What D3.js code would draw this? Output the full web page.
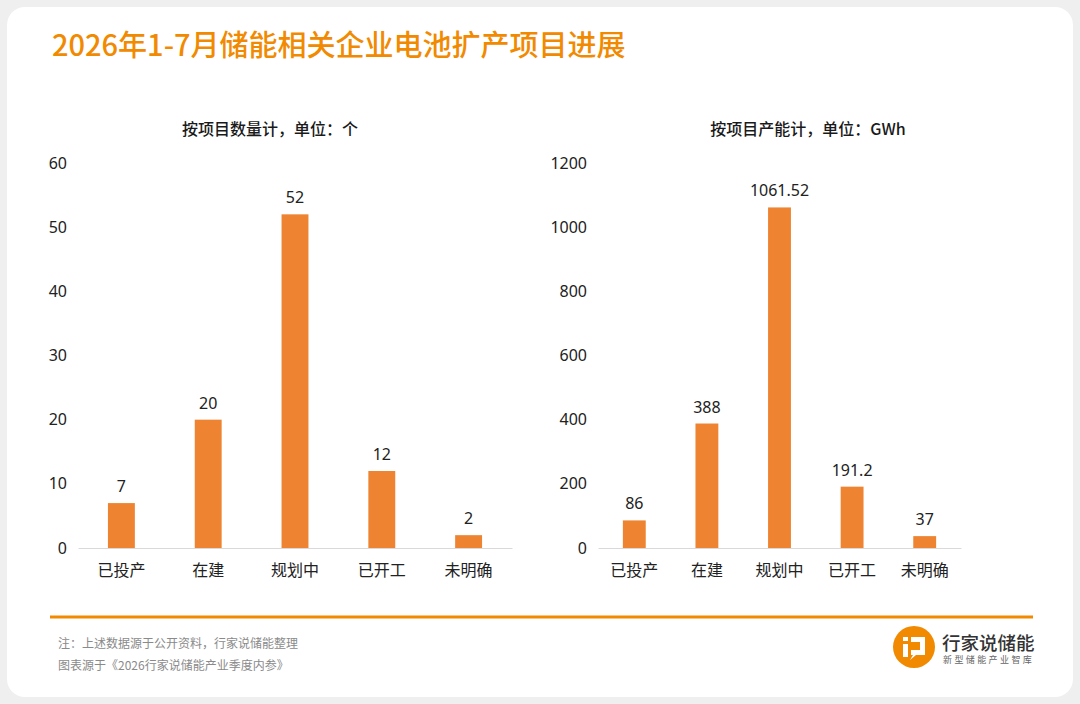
<!DOCTYPE html>
<html><head><meta charset="utf-8">
<script src="https://cdn.jsdelivr.net/npm/d3@7"></script>
<style>
html,body{margin:0;padding:0;background:#efefef;}
svg{display:block;font-family:"Noto Sans CJK SC","Noto Sans",sans-serif;}
</style></head>
<body>
<svg id="chart" width="1080" height="704"></svg>
<script>
const categories = ["已投产", "在建", "规划中", "已开工", "未明确"];
const countValues = [7, 20, 52, 12, 2];
const capacityValues = [86, 388, 1061.52, 191.2, 37];
const countTicks = [0, 10, 20, 30, 40, 50, 60];
const capacityTicks = [0, 200, 400, 600, 800, 1000, 1200];
const titleText = "2026年1-7月储能相关企业电池扩产项目进展";
const countSubtitle = "按项目数量计，单位：个";
const capacitySubtitle = "按项目产能计，单位：GWh";
const noteLines = ["注：上述数据源于公开资料，行家说储能整理", "图表源于《2026行家说储能产业季度内参》"];
const brandName = "行家说储能";
const brandSlogan = "新型储能产业智库";

const ORANGE = "#F18A00";
const BAR = "#EE8431";
const svg = d3.select("#chart");

// card
svg.append("rect").attr("x", 0).attr("y", 0).attr("width", 1080).attr("height", 704).attr("fill", "#efefef");
svg.append("rect").attr("x", 7).attr("y", 7).attr("width", 1066).attr("height", 690).attr("rx", 18).attr("fill", "#fff");

// title
svg.append("text").attr("x", 52).attr("y", 56).attr("fill", ORANGE)
  .attr("font-size", 29).attr("font-weight", 500).text(titleText);

function drawChart(values, ticks, subtitle, x0, x1, subX, barPad) {
  const y = d3.scaleLinear().domain([0, d3.max(ticks)]).range([548, 163]);
  const x = d3.scaleBand().domain(categories).range([x0, x1]).paddingInner(barPad).paddingOuter(barPad / 2);
  const g = svg.append("g");

  g.append("text").attr("x", subX).attr("y", 135).attr("text-anchor", "middle")
    .attr("font-size", 16).attr("font-weight", 500).attr("fill", "#1a1a1a").text(subtitle);

  const ya = g.append("g").attr("transform", `translate(${x0},0)`)
    .call(d3.axisLeft(y).tickValues(ticks).tickSize(0).tickPadding(11).tickFormat(d3.format("d")));
  ya.select(".domain").remove();
  ya.selectAll("text").attr("font-size", 16).attr("fill", "#222").attr("font-family", "'Noto Sans','Open Sans',sans-serif");

  g.selectAll("rect.bar").data(values).join("rect").attr("class", "bar")
    .attr("x", (d, i) => x(categories[i])).attr("width", x.bandwidth())
    .attr("y", d => y(d)).attr("height", d => y(0) - y(d)).attr("fill", BAR);

  g.selectAll("text.val").data(values).join("text").attr("class", "val")
    .attr("x", (d, i) => x(categories[i]) + x.bandwidth() / 2).attr("y", d => y(d) - 11)
    .attr("text-anchor", "middle").attr("font-size", 16).attr("fill", "#222")
    .attr("font-family", "'Noto Sans','Open Sans',sans-serif").text(d => d);

  const xa = g.append("g").attr("transform", `translate(0,${y(0)})`)
    .call(d3.axisBottom(x).tickSize(0).tickSizeOuter(0).tickPadding(17));
  xa.select(".domain").attr("stroke", "#d9d9d9").attr("stroke-width", 1.2);
  xa.selectAll("text").attr("font-size", 16).attr("fill", "#222").attr("font-family", "'Noto Sans CJK SC',sans-serif");
}

drawChart(countValues, countTicks, countSubtitle, 78, 512, 270, 0.69);
drawChart(capacityValues, capacityTicks, capacitySubtitle, 598, 961, 808, 0.685);

// divider
svg.append("line").attr("x1", 50).attr("x2", 1033).attr("y1", 617).attr("y2", 617)
  .attr("stroke", ORANGE).attr("stroke-width", 3);

// notes
svg.selectAll("text.note").data(noteLines).join("text").attr("class", "note")
  .attr("x", 58).attr("y", (d, i) => 648 + i * 22).attr("font-size", 12).attr("fill", "#8a8a8a").text(d => d);

// logo
const logo = svg.append("g").attr("transform", "translate(914,647)");
logo.append("circle").attr("r", 21).attr("fill", ORANGE);
logo.append("rect").attr("x", -11).attr("y", -10).attr("width", 5).attr("height", 4).attr("fill", "#fff");
logo.append("rect").attr("x", -11).attr("y", -3).attr("width", 5).attr("height", 13).attr("fill", "#fff");
logo.append("path").attr("d", "M-3,-10 H11 V8 H2 L-4,13 L-1,8 H-3 V3 H6 V-5 H-3 Z").attr("fill", "#fff");

svg.append("text").attr("x", 942).attr("y", 650).attr("font-size", 18.5).attr("font-weight", 500)
  .attr("fill", "#333").text(brandName);
svg.append("text").attr("x", 943).attr("y", 663).attr("font-size", 9).attr("letter-spacing", 2.4)
  .attr("fill", "#666").text(brandSlogan);
</script>
</body></html>
